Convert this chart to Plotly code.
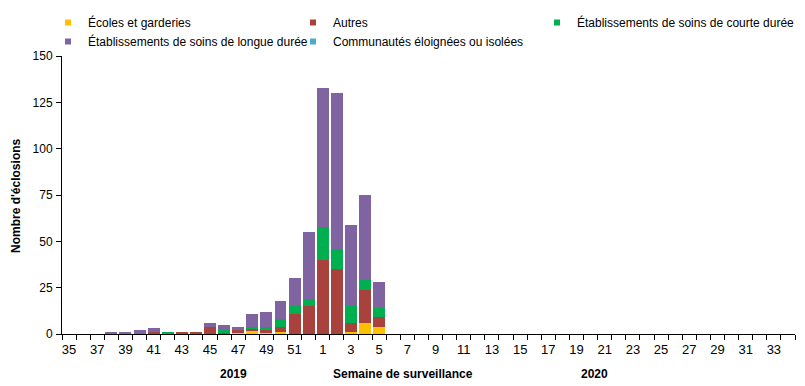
import plotly.graph_objects as go

weeks = [str(w) for w in range(35, 53)] + [str(w) for w in range(1, 35)]
keys = [str(w) for w in range(35, 53)] + [f"{w}b" for w in range(1, 35)]
n = len(weeks)

# values by week (2019: 35-52, 2020: 1-34 with suffix "b")
ecoles_vals = {"47": 1, "48": 2, "49": 1, "50": 1, "3b": 1, "4b": 6, "5b": 4}
autres_vals = {"41": 1, "43": 1, "44": 1, "45": 4, "46": 1, "47": 1, "48": 1, "49": 1, "50": 3,
               "51": 11, "52": 15, "1b": 40, "2b": 35, "3b": 5, "4b": 18, "5b": 5}
courte_vals = {"42": 1, "46": 1, "48": 1, "49": 2, "50": 4, "51": 4, "52": 4,
               "1b": 18, "2b": 11, "3b": 9, "4b": 5, "5b": 5}
longue_vals = {"38": 1, "39": 1, "40": 2, "41": 2, "45": 2, "46": 3, "47": 2, "48": 7, "49": 8,
               "50": 10, "51": 15, "52": 36, "1b": 75, "2b": 84, "3b": 44, "4b": 46, "5b": 14}
communautes_vals = {}

ecoles = [ecoles_vals.get(k, 0) for k in keys]
autres = [autres_vals.get(k, 0) for k in keys]
courte = [courte_vals.get(k, 0) for k in keys]
longue = [longue_vals.get(k, 0) for k in keys]
communautes = [communautes_vals.get(k, 0) for k in keys]

series = [
    ("Écoles et garderies", ecoles, "#FFC000", "legend"),
    ("Autres", autres, "#A9413C", "legend2"),
    ("Établissements de soins de courte durée", courte, "#00B050", "legend3"),
    ("Établissements de soins de longue durée", longue, "#8064A2", "legend"),
    ("Communautés éloignées ou isolées", communautes, "#4BACC6", "legend2"),
]

# The page body has an 8px margin, so the figure is sized to fit the 805x386 window.
W, H = 797, 378
OFF = 8
L, R, T, B = 62 - OFF, 10, 56 - OFF, 52
PW = W - L - R

FONT = "Liberation Sans, Arial, sans-serif"
x = list(range(n))
fig = go.Figure()
for name, vals, col, lg in series:
    fig.add_trace(go.Bar(x=x, y=vals, name=name, marker=dict(color=col, line=dict(width=0)),
                         showlegend=False, legendgroup=name))
for name, vals, col, lg in series:
    fig.add_trace(go.Scatter(x=[None], y=[None], mode="markers", name=name, legendgroup=name,
                             legend=lg, marker=dict(symbol="square", size=6, color=col)))

tickvals = list(range(0, n, 2))
ticktext = [weeks[i] for i in tickvals]

def leg(text_x):
    return dict(orientation="v", x=(text_x - 48) / W, xanchor="left", y=1.016, yanchor="top",
                xref="container", yref="container", font=dict(size=12),
                itemwidth=30, tracegroupgap=0, bgcolor="rgba(0,0,0,0)")

fig.update_layout(
    width=W, height=H,
    margin=dict(l=L, r=R, t=T, b=B, autoexpand=False),
    barmode="stack", bargap=0.15,
    plot_bgcolor="white", paper_bgcolor="white",
    font=dict(family=FONT, size=12, color="#000"),
    legend=leg(88),
    legend2=leg(333),
    legend3=leg(577),
    xaxis=dict(range=[-0.5, n - 0.5], tickmode="array", tickvals=tickvals, ticktext=ticktext,
               ticks="", showline=True, linecolor="#000", linewidth=1, showgrid=False,
               zeroline=False, tickfont=dict(size=13), ticklabelstandoff=3,
               minor=dict(tickmode="array", tickvals=[i - 0.5 for i in range(n + 1)],
                          ticks="outside", ticklen=5, tickcolor="#000", tickwidth=1, showgrid=False)),
    yaxis=dict(range=[0, 150], tickvals=[0, 25, 50, 75, 100, 125, 150], ticks="outside",
               ticklen=5, tickcolor="#000", showline=True, linecolor="#000", linewidth=1,
               showgrid=False, zeroline=False, tickfont=dict(size=12), ticklabelstandoff=1),
)

fig.add_annotation(text="<b>Nombre d'éclosions</b>", x=(16 - OFF - L) / PW, y=0.5, xref="paper",
                   yref="paper", xanchor="center", yanchor="middle", showarrow=False,
                   textangle=-90, font=dict(size=12))

ann_y = -0.11
fig.add_annotation(text="<b>2019</b>", x=11.7, y=ann_y, xref="x", yref="paper",
                   showarrow=False, yanchor="top", font=dict(size=12))
fig.add_annotation(text="<b>Semaine de surveillance</b>", x=23.7, y=ann_y, xref="x", yref="paper",
                   showarrow=False, yanchor="top", font=dict(size=12))
fig.add_annotation(text="<b>2020</b>", x=37.3, y=ann_y, xref="x", yref="paper",
                   showarrow=False, yanchor="top", font=dict(size=12))

fig.write_html("out.html")
